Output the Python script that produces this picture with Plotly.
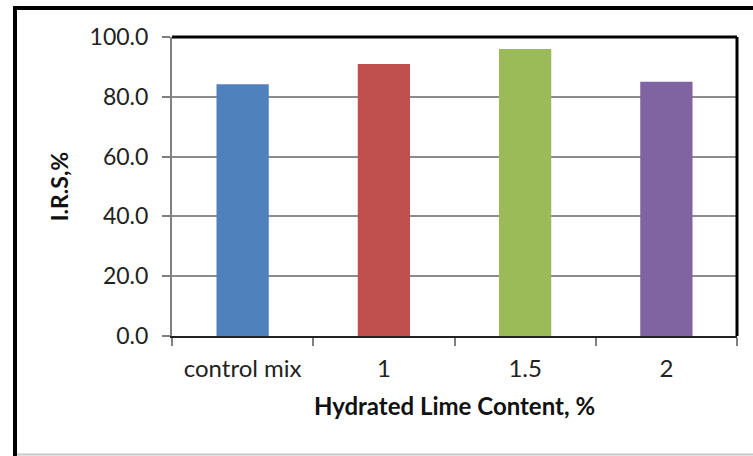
import plotly.graph_objects as go

# Indirect tensile strength ratio for each hydrated lime dosage
categories = ["control mix", "1", "1.5", "2"]
irs_values = [84.2, 91.0, 96.0, 85.0]
bar_colors = ["#4F81BD", "#C0504D", "#9BBB59", "#8064A2"]
y_ticks = [0, 20, 40, 60, 80, 100]

FONT = "Lato, Calibri, Carlito, sans-serif"

fig = go.Figure(
    go.Bar(
        x=categories,
        y=irs_values,
        marker=dict(color=bar_colors, line=dict(width=0)),
        width=0.37,
    )
)

fig.update_layout(
    width=753,
    height=456,
    margin=dict(l=172, r=16, t=37, b=120),
    paper_bgcolor="white",
    plot_bgcolor="white",
    showlegend=False,
    font=dict(family=FONT, color="#222222"),
)

fig.update_xaxes(
    type="category",
    tickson="boundaries",
    ticks="outside",
    ticklen=8,
    tickwidth=2,
    tickcolor="#808080",
    showline=True,
    linecolor="#222222",
    linewidth=2,
    showgrid=False,
    tickfont=dict(size=24, family=FONT, color="#222222"),
    ticklabelstandoff=10,
    title=dict(
        text="<b>Hydrated Lime Content, %</b>",
        font=dict(size=24, family=FONT, color="#111111"),
        standoff=17,
    ),
)

fig.update_yaxes(
    range=[0, 100],
    tickvals=y_ticks,
    ticktext=[f"{v:.1f}" for v in y_ticks],
    ticks="outside",
    ticklen=8,
    tickwidth=2,
    tickcolor="#808080",
    showline=True,
    linecolor="#808080",
    linewidth=2,
    showgrid=True,
    gridcolor="#8C8C8C",
    gridwidth=2,
    zeroline=False,
    tickfont=dict(size=23, family=FONT, color="#222222"),
    ticklabelstandoff=9,
    title=dict(
        text="<b>I.R.S,%</b>",
        font=dict(size=23, family=FONT, color="#111111"),
        standoff=15,
    ),
)

# Black frame on the top and right of the plotting area
fig.add_shape(type="line", xref="paper", yref="paper", x0=0, x1=1, y0=1, y1=1,
              line=dict(color="black", width=3))
fig.add_shape(type="line", xref="paper", yref="paper", x0=1, x1=1, y0=0, y1=1,
              line=dict(color="black", width=3))

# Outer chart border
top = 1 + 29 / 299
fig.add_shape(type="line", xref="paper", yref="paper",
              x0=-157 / 565, x1=-157 / 565, y0=-122 / 299, y1=top,
              line=dict(color="black", width=4))
fig.add_shape(type="line", xref="paper", yref="paper",
              x0=-159 / 565, x1=600 / 565, y0=top, y1=top,
              line=dict(color="black", width=4))
fig.add_shape(type="line", xref="paper", yref="paper",
              x0=-155 / 565, x1=600 / 565, y0=-118.5 / 299, y1=-118.5 / 299,
              line=dict(color="#C8C8C8", width=2))

fig.write_html("out.html")
